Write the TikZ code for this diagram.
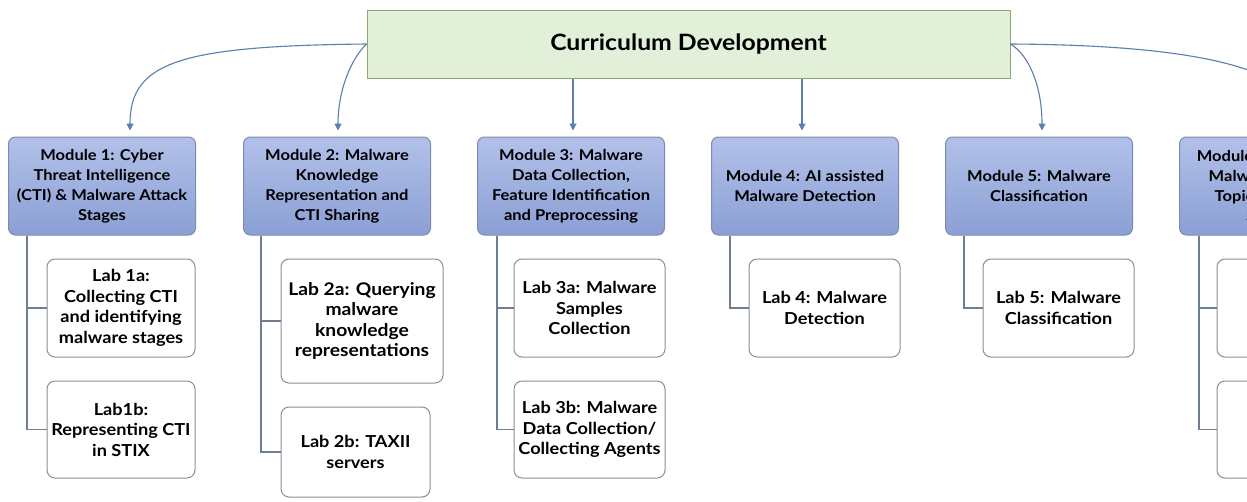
\documentclass[tikz,border=0pt]{standalone}
\usepackage{fontspec}
\setmainfont{Lato}[FakeStretch=1.1]
\usetikzlibrary{arrows.meta}
\definecolor{topfill}{HTML}{E2EFD9}
\definecolor{topdraw}{HTML}{8FA872}
\definecolor{modtop}{HTML}{B2C1E9}
\definecolor{modbot}{HTML}{8A9FD4}
\definecolor{moddraw}{HTML}{7D8BAE}
\definecolor{arrowcol}{HTML}{5B7DB1}
\definecolor{labdraw}{HTML}{8A8F96}
\definecolor{treecol}{HTML}{6F7E90}
\begin{document}
\begin{tikzpicture}[x=1pt,y=-1pt,
  topbox/.style={draw=topdraw, fill=topfill, line width=1pt, minimum width=643pt,
    minimum height=68pt, inner sep=0pt, font=\bfseries\fontsize{22.5}{26}\selectfont},
  modbox/.style={draw=moddraw, line width=1pt, rounded corners=7pt, top color=modtop,
    bottom color=modbot, minimum width=187pt, minimum height=98pt, inner sep=0pt,
    align=center, font=\bfseries\fontsize{15}{20}\selectfont},
  labbox/.style={draw=labdraw, line width=1pt, fill=white, rounded corners=8pt,
    inner sep=0pt, align=center, font=\bfseries\fontsize{16.5}{20.5}\selectfont},
  feed/.style={draw=arrowcol, line width=1.1pt, shorten >=6pt,
    -{Triangle[length=7pt,width=7pt]}},
  tree/.style={draw=treecol, line width=1.1pt}]

\useasboundingbox (0,0) rectangle (1247,501);
\fill[white] (0,0) rectangle (1247,501);
\clip (0,0) rectangle (1247,501);

% root
\node[topbox] (cd) at (688.5,44) {Curriculum Development};

% modules
\node[modbox] (m1) at (102,186) {Module 1: Cyber\\Threat Intelligence\\(CTI) \& Malware Attack\\Stages};
\node[modbox] (m2) at (337,186) {Module 2: Malware\\Knowledge\\Representation and\\CTI Sharing};
\node[modbox] (m3) at (571,186) {Module 3: Malware\\Data Collection,\\Feature Identification\\and Preprocessing};
\node[modbox] (m4) at (805,186) {Module 4: AI assisted\\Malware Detection};
\node[modbox] (m5) at (1039,186) {Module 5: Malware\\Classification};
\node[modbox] (m6) at (1273,186) {Module 6: Advanced\\Malware Analysis\\Topics and Case\\Studies};

% labs
\node[labbox, minimum width=148pt, minimum height=98pt] (l1a) at (121,308) {Lab 1a:\\Collecting CTI\\and identifying\\malware stages};
\node[labbox, minimum width=148pt, minimum height=97pt] (l1b) at (121,429.5) {Lab1b:\\Representing CTI\\in STIX};
\node[labbox, minimum width=162pt, minimum height=124pt, font=\bfseries\fontsize{17.5}{20.5}\selectfont] (l2a) at (362,321) {Lab 2a: Querying\\malware\\knowledge\\representations};
\node[labbox, minimum width=149pt, minimum height=90pt] (l2b) at (355.5,452) {Lab 2b: TAXII\\servers};
\node[labbox, minimum width=151pt, minimum height=98pt] (l3a) at (589.5,308) {Lab 3a: Malware\\Samples\\Collection};
\node[labbox, minimum width=151pt, minimum height=97pt] (l3b) at (589.5,429.5) {Lab 3b: Malware\\Data Collection/\\Collecting Agents};
\node[labbox, minimum width=151pt, minimum height=98pt] (l4) at (824.5,308) {Lab 4: Malware\\Detection};
\node[labbox, minimum width=151pt, minimum height=98pt] (l5) at (1058.5,308) {Lab 5: Malware\\Classification};
\node[labbox, minimum width=151pt, minimum height=98pt] (l6a) at (1292.5,308) {};
\node[labbox, minimum width=151pt, minimum height=97pt] (l6b) at (1292.5,429.5) {};

% root to modules
\draw[feed] (cd.west) .. controls (180,46) and (130,62) .. ([xshift=28pt]m1.north);
\draw[feed] (cd.west) .. controls (350,60) and (338,92) .. ([xshift=1pt]m2.north);
\draw[feed] ([xshift=2pt]m3.north |- cd.south) -- ([xshift=2pt]m3.north);
\draw[feed] ([xshift=-3pt]m4.north |- cd.south) -- ([xshift=-3pt]m4.north);
\draw[feed] (cd.east) .. controls (1030,56) and (1042,88) .. ([xshift=3pt]m5.north);
\draw[feed] (cd.east) .. controls (1170,45) and (1303,62) .. ([xshift=30pt]m6.north);

% modules to labs
\draw[tree] ([xshift=19pt]m1.south west) |- (l1a.west);
\draw[tree] ([xshift=19pt]m1.south west) |- (l1b.west);
\draw[tree] ([xshift=18pt]m2.south west) |- (l2a.west);
\draw[tree] ([xshift=18pt]m2.south west) |- (l2b.west);
\draw[tree] ([xshift=20pt]m3.south west) |- (l3a.west);
\draw[tree] ([xshift=20pt]m3.south west) |- (l3b.west);
\draw[tree] ([xshift=19pt]m4.south west) |- (l4.west);
\draw[tree] ([xshift=19pt]m5.south west) |- (l5.west);
\draw[tree] ([xshift=20pt]m6.south west) |- (l6a.west);
\draw[tree] ([xshift=20pt]m6.south west) |- (l6b.west);
\end{tikzpicture}
\end{document}
